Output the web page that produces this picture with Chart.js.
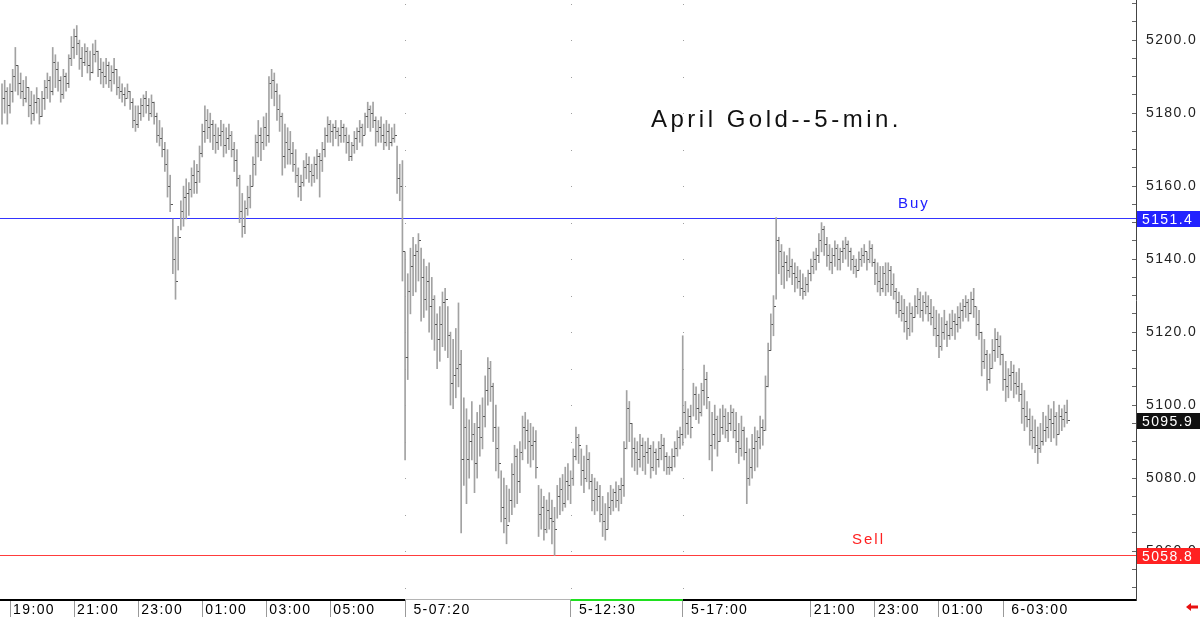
<!DOCTYPE html>
<html>
<head>
<meta charset="utf-8">
<title>April Gold 5-min</title>
<script src="https://cdn.jsdelivr.net/npm/chart.js@4.4.1/dist/chart.umd.min.js"></script>
<style>
  html, body { margin: 0; padding: 0; background: #fff; }
  #wrap { width: 1200px; height: 618px; }
</style>
</head>
<body>
<div id="wrap"><canvas id="chart" width="1200" height="618"></canvas></div>
<script>
// 5-minute bars (bar index = position on the time axis)
const highs = [
  5188,5189,5187,5188,5192,5198,5193,5191,5189,5190,
  5187,5186,5185,5187,5184,5186,5189,5191,5190,5198,
  5196,5194,5190,5192,5191,5196,5201,5203,5204,5200,
  5198,5199,5198,5197,5199,5200,5197,5195,5194,5195,
  5194,5193,5195,5192,5190,5188,5187,5188,5186,5184,
  5182,5182,5184,5185,5186,5184,5185,5183,5180,5178,
  5176,5172,5170,5163,5151,5146,5149,5156,5160,5162,
  5161,5165,5167,5166,5171,5177,5182,5181,5180,5178,
  5177,5176,5178,5177,5176,5177,5175,5172,5170,5163,
  5158,5156,5160,5163,5168,5174,5178,5176,5179,5180,
  5190,5192,5191,5188,5185,5180,5177,5176,5175,5172,
  5170,5165,5163,5167,5169,5168,5166,5168,5170,5169,
  5172,5176,5179,5178,5177,5178,5176,5178,5177,5176,
  5174,5172,5175,5176,5178,5177,5180,5183,5182,5183,
  5179,5178,5179,5177,5178,5177,5176,5177,5171,5166,
  5167,5142,5136,5143,5146,5144,5147,5143,5140,5138,
  5139,5135,5130,5125,5127,5131,5132,5127,5120,5118,
  5121,5128,5115,5102,5099,5096,5101,5095,5098,5100,
  5102,5108,5113,5112,5106,5100,5094,5082,5080,5078,
  5077,5084,5089,5088,5090,5097,5098,5096,5095,5094,
  5093,5078,5077,5075,5074,5076,5074,5072,5078,5080,
  5081,5083,5084,5082,5088,5094,5092,5088,5086,5089,
  5087,5081,5080,5079,5078,5075,5073,5076,5078,5077,
  5079,5078,5080,5090,5104,5101,5095,5091,5090,5092,
  5091,5090,5091,5089,5090,5088,5090,5092,5091,5087,
  5086,5088,5090,5093,5094,5119,5101,5099,5100,5106,
  5105,5103,5106,5111,5109,5101,5098,5100,5097,5099,
  5100,5099,5098,5100,5099,5098,5095,5097,5094,5091,
  5088,5092,5094,5093,5097,5096,5108,5117,5125,5130,
  5151.4,5146,5144,5142,5141,5143,5140,5139,5138,5137,
  5136,5135,5137,5140,5142,5143,5147,5150,5149,5146,
  5144,5143,5145,5144,5143,5145,5146,5145,5143,5141,
  5140,5142,5143,5144,5142,5145,5144,5140,5139,5138,
  5138,5139,5139,5138,5136,5132,5131,5130,5129,5127,
  5128,5127,5130,5132,5131,5130,5131,5130,5129,5127,
  5126,5125,5124,5126,5123,5125,5126,5125,5127,5128,
  5129,5130,5129,5131,5132,5127,5126,5120,5118,5115,
  5114,5118,5121,5120,5119,5114,5112,5110,5112,5111,
  5109,5110,5106,5104,5101,5099,5097,5096,5094,5095,
  5098,5097,5100,5099,5101,5098,5100,5099,5100,5101.4
];
const lows = [
  5177,5180,5177,5180,5183,5186,5185,5184,5182,5183,
  5179,5177,5178,5180,5177,5179,5181,5184,5183,5185,
  5187,5186,5183,5184,5186,5187,5193,5195,5196,5192,
  5190,5193,5191,5189,5191,5194,5190,5188,5187,5188,
  5187,5186,5188,5185,5184,5183,5182,5184,5181,5176,
  5175,5176,5178,5179,5180,5178,5179,5177,5172,5171,
  5168,5164,5157,5153,5136,5129,5137,5148,5149,5151,
  5152,5157,5158,5158,5161,5168,5172,5173,5172,5170,
  5169,5170,5171,5168,5169,5170,5168,5164,5160,5150,
  5146,5147,5152,5154,5160,5163,5168,5167,5170,5171,
  5172,5184,5182,5178,5175,5163,5165,5166,5166,5164,
  5161,5157,5156,5160,5162,5161,5160,5161,5162,5157,
  5164,5168,5172,5172,5171,5173,5171,5172,5172,5169,
  5167,5167,5169,5170,5172,5171,5174,5176,5175,5176,
  5171,5172,5172,5170,5171,5170,5171,5172,5158,5156,
  5134,5085,5107,5125,5130,5131,5134,5123,5124,5126,
  5120,5118,5115,5110,5112,5116,5115,5113,5100,5099,
  5102,5105,5065,5078,5073,5080,5085,5076,5080,5086,
  5088,5094,5100,5101,5090,5082,5080,5068,5065,5062,
  5068,5070,5072,5073,5076,5085,5088,5084,5083,5085,
  5080,5064,5066,5063,5065,5066,5062,5058.8,5069,5070,
  5071,5072,5074,5073,5078,5085,5084,5078,5076,5079,
  5077,5071,5070,5071,5068,5064,5063,5066,5070,5071,
  5072,5071,5073,5075,5088,5090,5083,5082,5081,5083,
  5082,5081,5084,5080,5082,5081,5083,5085,5082,5081,
  5081,5082,5083,5086,5088,5089,5091,5092,5091,5097,
  5096,5095,5097,5100,5099,5085,5082,5088,5086,5090,
  5092,5091,5090,5093,5091,5087,5084,5086,5085,5073,
  5078,5080,5082,5083,5088,5089,5093,5105,5115,5119,
  5129,5136,5133,5132,5134,5135,5133,5131,5132,5130,
  5129,5130,5131,5134,5136,5137,5139,5142,5141,5138,
  5137,5136,5138,5137,5137,5139,5140,5138,5137,5136,
  5135,5137,5138,5139,5137,5139,5138,5133,5131,5130,
  5131,5130,5131,5130,5129,5125,5124,5123,5120,5118,
  5119,5120,5124,5125,5124,5123,5125,5123,5122,5119,
  5116,5113,5115,5118,5116,5118,5119,5118,5120,5121,
  5123,5124,5123,5125,5124,5119,5118,5108,5110,5104,
  5106,5110,5112,5113,5111,5104,5101,5102,5104,5102,
  5103,5101,5095,5093,5094,5089,5088,5087,5084,5087,
  5089,5090,5091,5090,5091,5089,5092,5093,5094,5095
];
const closes = [
  5184,5186,5182,5186,5190,5193,5188,5186,5184,5187,
  5182,5180,5183,5184,5179,5184,5187,5189,5186,5194,
  5192,5189,5185,5190,5188,5195,5198,5201,5199,5195,
  5194,5197,5193,5191,5196,5197,5192,5191,5190,5193,
  5189,5191,5192,5187,5186,5185,5184,5186,5183,5178,
  5177,5180,5182,5184,5182,5180,5183,5179,5174,5173,
  5170,5166,5160,5155,5140,5134,5146,5153,5157,5158,
  5159,5163,5161,5164,5169,5175,5178,5176,5177,5174,
  5172,5174,5175,5171,5173,5174,5170,5167,5162,5153,
  5149,5154,5157,5160,5166,5172,5174,5172,5176,5174,
  5188,5189,5186,5181,5179,5168,5172,5170,5169,5166,
  5163,5160,5161,5165,5166,5164,5163,5166,5168,5167,
  5170,5174,5177,5175,5176,5175,5174,5176,5174,5172,
  5168,5171,5173,5175,5176,5174,5179,5181,5180,5178,
  5175,5176,5174,5172,5175,5172,5173,5174,5162,5160,
  5142,5113,5131,5138,5141,5142,5145,5135,5129,5134,
  5127,5129,5122,5118,5122,5128,5129,5119,5106,5108,
  5110,5111,5085,5094,5085,5090,5092,5084,5094,5091,
  5097,5104,5110,5105,5094,5088,5084,5072,5069,5067,
  5074,5081,5086,5079,5087,5094,5093,5090,5089,5090,
  5083,5070,5072,5066,5071,5069,5068,5066,5075,5077,
  5073,5079,5078,5080,5086,5091,5089,5082,5080,5085,
  5079,5074,5077,5075,5070,5068,5066,5072,5074,5076,
  5074,5077,5078,5088,5099,5095,5088,5087,5085,5089,
  5086,5087,5088,5083,5087,5085,5088,5089,5086,5083,
  5083,5086,5088,5091,5092,5098,5095,5097,5094,5103,
  5099,5098,5104,5107,5102,5089,5092,5096,5090,5094,
  5097,5093,5095,5098,5093,5090,5088,5093,5087,5080,
  5083,5088,5090,5091,5094,5093,5105,5115,5122,5127,
  5145,5142,5138,5139,5137,5138,5136,5135,5134,5132,
  5131,5133,5136,5138,5140,5141,5145,5148,5144,5141,
  5139,5141,5143,5140,5142,5143,5144,5142,5140,5138,
  5137,5140,5141,5142,5140,5143,5139,5136,5134,5132,
  5136,5133,5137,5133,5131,5128,5126,5125,5123,5121,
  5125,5124,5127,5129,5126,5128,5127,5125,5124,5121,
  5119,5116,5120,5122,5119,5121,5123,5122,5124,5126,
  5127,5128,5125,5129,5127,5122,5120,5112,5114,5107,
  5110,5115,5118,5116,5114,5107,5105,5108,5109,5106,
  5105,5103,5099,5097,5096,5093,5091,5089,5088,5090,
  5093,5094,5096,5095,5097,5092,5097,5096,5098,5095.9
];

// time axis labels (bar index -> label)
const xTickIdx  = [3, 27, 51, 75, 99, 123, 151, 213, 255, 303, 327, 351, 375];
const xTickText = ['19:00', '21:00', '23:00', '01:00', '03:00', '05:00', ' 5-07:20',
                   ' 5-12:30', ' 5-17:00', '21:00', '23:00', '01:00', ' 6-03:00'];
const sessionIdx = [151, 213, 255];   // session break markers

const buyLevel  = 5151.4;
const sellLevel = 5058.8;
const lastPrice = 5095.9;

const yMin = 5046.6, yMax = 5211;
const xMin = -0.75, xMax = 424.8;

// right-hand close tick used as point style
const closeTick = document.createElement('canvas');
closeTick.width = 5; closeTick.height = 1;
const tctx = closeTick.getContext('2d');
tctx.fillStyle = '#555';
tctx.fillRect(3, 0, 2, 1);

function noPad(s) {
  s.paddingTop = 0; s.paddingBottom = 0; s.paddingLeft = 0; s.paddingRight = 0;
}

const decor = {
  id: 'decor',
  beforeDraw(chart) {
    const ctx = chart.ctx;
    ctx.save();
    ctx.fillStyle = '#fff';
    ctx.fillRect(0, 0, chart.width, chart.height);
    ctx.restore();
    ctx.letterSpacing = '1.4px';
  },
  beforeDatasetsDraw(chart) {
    // buy / sell level lines
    const { ctx, chartArea } = chart;
    const y = chart.scales.y;
    ctx.save();
    ctx.lineWidth = 1;
    [[buyLevel, '#3434ff'], [sellLevel, '#ff3c3c']].forEach(([lvl, col]) => {
      const py = Math.round(y.getPixelForValue(lvl)) + 0.5;
      ctx.strokeStyle = col;
      ctx.beginPath();
      ctx.moveTo(chartArea.left, py);
      ctx.lineTo(chartArea.right, py);
      ctx.stroke();
    });
    ctx.restore();
  },
  afterDraw(chart) {
    const { ctx, chartArea } = chart;
    const x = chart.scales.x, y = chart.scales.y;
    const px = v => x.getPixelForValue(v);
    ctx.save();

    // dotted session separators
    ctx.fillStyle = '#a0a0a0';
    sessionIdx.forEach(i => {
      const sx = Math.round(px(i));
      for (let v = 5050; v <= 5210; v += 10) {
        ctx.fillRect(sx, Math.round(y.getPixelForValue(v)), 1, 1);
      }
    });

    // session strip along the time axis
    const b = chartArea.bottom;
    const s0 = px(sessionIdx[0]), s1 = px(sessionIdx[1]), s2 = px(sessionIdx[2]);
    ctx.fillStyle = '#000';
    ctx.fillRect(0, b - 1, s0, 2);
    ctx.fillRect(s2, b - 1, chartArea.right - s2, 2);
    ctx.fillStyle = '#b4b4b4';
    ctx.fillRect(s0, b - 1, s1 - s0, 1);
    ctx.fillStyle = '#1fe01f';
    ctx.fillRect(s1, b - 1, s2 - s1, 2);

    // texts
    ctx.textAlign = 'left';
    ctx.textBaseline = 'alphabetic';
    ctx.letterSpacing = '3.5px';
    ctx.font = '24px "Liberation Sans"';
    ctx.fillStyle = '#111';
    ctx.fillText('April Gold--5-min.', 651, 127);

    ctx.letterSpacing = '2px';
    ctx.font = '15px "Liberation Sans"';
    ctx.fillStyle = '#2020ff';
    ctx.fillText('Buy', 898, y.getPixelForValue(buyLevel) - 10);
    ctx.fillStyle = '#ff2020';
    ctx.fillText('Sell', 852, y.getPixelForValue(sellLevel) - 11);

    // value boxes on the price axis
    ctx.letterSpacing = '1.4px';
    ctx.font = '14px "Liberation Sans"';
    ctx.textBaseline = 'middle';
    const box = (val, bg) => {
      const py = Math.round(y.getPixelForValue(val)) + 1;
      ctx.fillStyle = bg;
      ctx.fillRect(y.left + 1, py - 8, chart.width - y.left, 16);
      ctx.fillStyle = '#fff';
      ctx.fillText(val.toFixed(1), y.left + 6, py + 1);
    };
    box(buyLevel, '#2222ff');
    box(lastPrice, '#111');
    box(sellLevel, '#ff2222');

    // little red arrow, bottom right
    ctx.fillStyle = '#e81010';
    ctx.beginPath();
    ctx.moveTo(1186, 607);
    ctx.lineTo(1191, 603);
    ctx.lineTo(1191, 605.5);
    ctx.lineTo(1198, 605.5);
    ctx.lineTo(1198, 608.5);
    ctx.lineTo(1191, 608.5);
    ctx.lineTo(1191, 611);
    ctx.closePath();
    ctx.fill();
    ctx.restore();
  }
};

Chart.defaults.font.family = '"Liberation Sans", Arial, sans-serif';

new Chart(document.getElementById('chart'), {
  type: 'bar',
  data: {
    datasets: [
      {
        type: 'bar',
        data: highs.map((h, i) => ({ x: i, y: [lows[i], h] })),
        backgroundColor: '#a2a2a2',
        barThickness: 1, borderWidth: 0, borderSkipped: false, grouped: false,
        order: 2
      },
      {
        type: 'scatter',
        data: closes.map((c, i) => ({ x: i, y: c })),
        pointStyle: closeTick, pointRadius: 1, pointHoverRadius: 1, order: 1
      }
    ]
  },
  options: {
    responsive: false,
    devicePixelRatio: 1,
    animation: false,
    events: [],
    layout: { padding: 0, autoPadding: false },
    plugins: { legend: { display: false }, tooltip: { enabled: false } },
    scales: {
      x: {
        type: 'linear', min: xMin, max: xMax, offset: false,
        afterBuildTicks: s => { s.ticks = xTickIdx.map(v => ({ value: v })); },
        afterFit: s => { s.height = 18; noPad(s); },
        grid: { offset: false, drawOnChartArea: false, drawTicks: true, tickLength: 17, color: '#9a9a9a' },
        border: { display: false },
        ticks: {
          autoSkip: false, maxRotation: 0, minRotation: 0, align: 'start',
          labelOffset: 3, padding: -15, color: '#000',
          font: { size: 14 },
          callback: v => { const k = xTickIdx.indexOf(v); return k >= 0 ? xTickText[k] : ''; }
        }
      },
      y: {
        type: 'linear', position: 'right', min: yMin, max: yMax,
        afterBuildTicks: s => {
          const t = [];
          for (let v = Math.ceil(yMin / 5) * 5; v <= yMax; v += 5) t.push({ value: v });
          s.ticks = t;
        },
        afterFit: s => { s.width = 64; noPad(s); },
        grid: { drawOnChartArea: false, drawTicks: true, tickLength: -4, color: '#666' },
        border: { display: true, color: '#444', width: 1 },
        ticks: {
          autoSkip: false, padding: 14, color: '#222',
          font: { size: 14 },
          callback: v => (v % 20 === 0 ? v.toFixed(1) : '')
        }
      }
    }
  },
  plugins: [decor]
});
</script>
</body>
</html>
